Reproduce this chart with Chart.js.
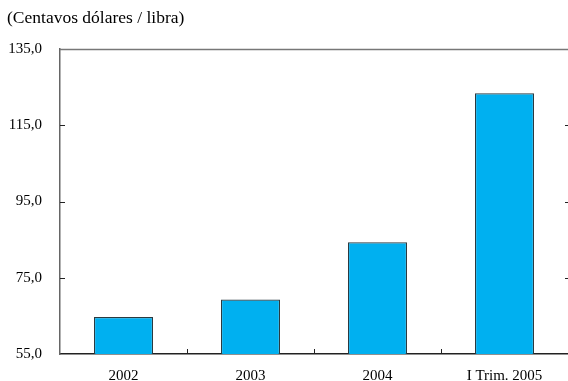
<!DOCTYPE html>
<html>
<head>
<meta charset="utf-8">
<script src="https://cdn.jsdelivr.net/npm/chart.js@4/dist/chart.umd.min.js"></script>
<style>
html,body{margin:0;padding:0;background:#fff;}
#wrap{width:568px;height:381px;position:relative;}
</style>
</head>
<body>
<div id="wrap"><canvas id="c" width="568" height="381"></canvas></div>
<script>
const categories = ["2002", "2003", "2004", "I Trim. 2005"];
const values = [64.7, 69.3, 84.3, 123.4];
const yTicks = [55, 75, 95, 115, 135];
const unitLabel = "(Centavos dólares / libra)";

const FONT = "'Liberation Serif', 'Times New Roman', serif";

const decor = {
  id: 'decor',
  afterDraw(chart) {
    const ctx = chart.ctx;
    const y = chart.scales.y, x = chart.scales.x;
    const a = chart.chartArea;
    ctx.save();
    ctx.fillStyle = '#000';
    ctx.font = "17.5px " + FONT;
    ctx.textBaseline = 'middle';
    ctx.textAlign = 'left';
    ctx.fillText(unitLabel, 7, 18);
    ctx.strokeStyle = '#777';
    ctx.lineWidth = 1.5;
    ctx.beginPath();
    ctx.moveTo(a.left, a.top + 0.5);
    ctx.lineTo(568, a.top + 0.5);
    ctx.stroke();
    ctx.strokeStyle = '#222';
    ctx.lineWidth = 1;
    yTicks.forEach(v => {
      const py = Math.round(y.getPixelForValue(v)) + 0.5;
      if (v === 55 || v === 135) return;
      ctx.beginPath();
      ctx.moveTo(a.left, py); ctx.lineTo(a.left + 5, py);
      ctx.moveTo(a.right - 3, py); ctx.lineTo(a.right, py);
      ctx.stroke();
    });
    for (let i = 1; i < categories.length; i++) {
      const px = Math.round((x.getPixelForValue(i - 1) + x.getPixelForValue(i)) / 2) + 0.5;
      ctx.beginPath();
      ctx.moveTo(px, a.bottom); ctx.lineTo(px, a.bottom - 5);
      ctx.stroke();
    }
    ctx.restore();
  }
};

new Chart(document.getElementById('c'), {
  type: 'bar',
  data: {
    labels: categories,
    datasets: [{
      data: values,
      backgroundColor: '#00B0F0',
      borderColor: '#2b3a40',
      borderWidth: 1.2,
      borderSkipped: false,
      categoryPercentage: 1,
      barPercentage: 0.465
    }]
  },
  options: {
    responsive: false,
    animation: false,
    devicePixelRatio: 1,
    layout: { padding: { top: 49, right: 0, left: 0, bottom: 0 } },
    plugins: { legend: { display: false }, tooltip: { enabled: false }, title: { display: false } },
    scales: {
      x: {
        grid: { display: false, drawTicks: false },
        border: { display: true, color: '#222', width: 1.5 },
        ticks: { color: '#000', font: { family: FONT, size: 15 }, padding: 13, maxRotation: 0 },
        afterFit(s) { s.height = 27; }
      },
      y: {
        min: 55, max: 135,
        grid: { display: false, drawTicks: false },
        border: { display: true, color: '#666', width: 1.5 },
        afterBuildTicks(s) { s.ticks = yTicks.map(v => ({ value: v })); },
        ticks: {
          color: '#000',
          font: { family: FONT, size: 15 },
          padding: 18,
          callback: v => v.toFixed(1).replace('.', ',')
        },
        afterFit(s) { s.width = 60; }
      }
    }
  },
  plugins: [decor]
});
</script>
</body>
</html>
